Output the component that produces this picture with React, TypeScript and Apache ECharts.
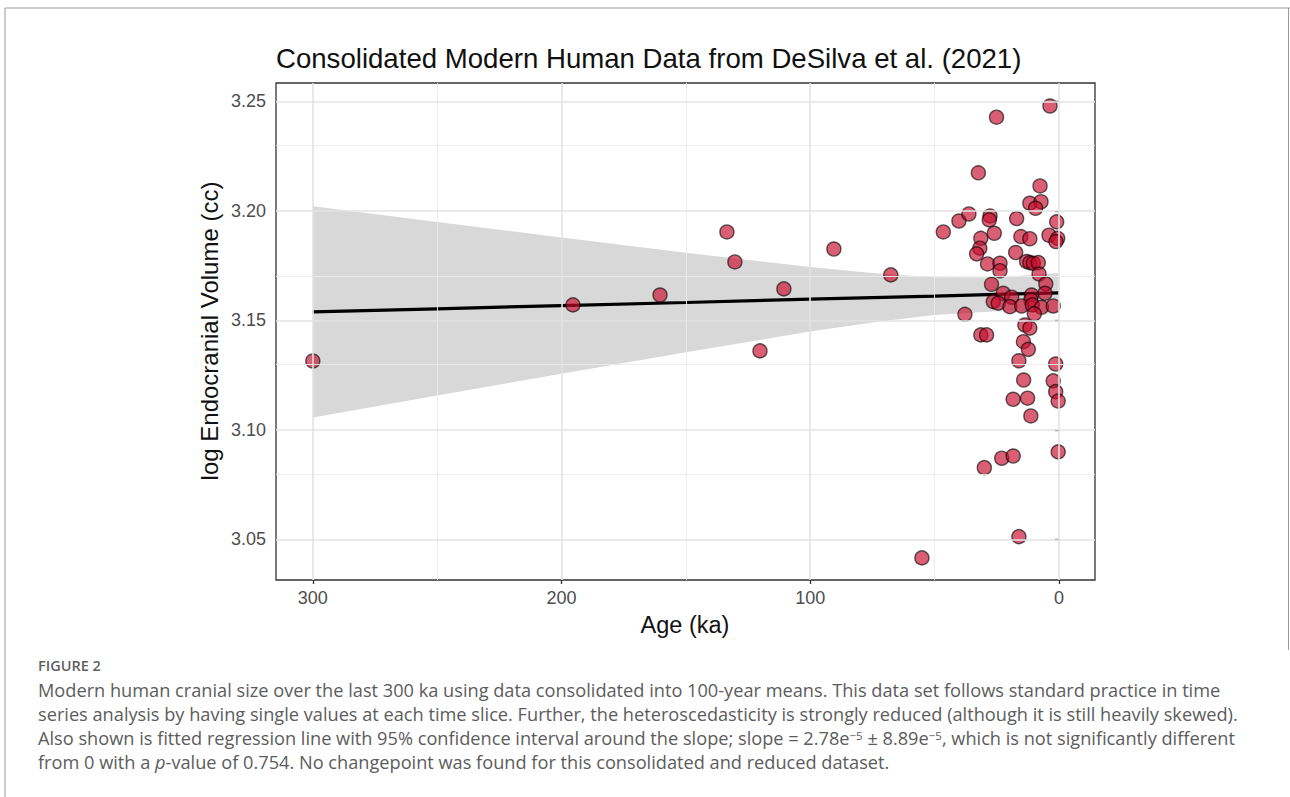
import React, { useEffect, useRef } from "react";
import * as echarts from "echarts";

// ---- data (age in ka, log endocranial volume) ----
const ages = [
  300, 195.4, 160.4, 133.5, 130.3, 120.2, 110.6, 90.5, 67.6, 55.1, 46.5, 40.2, 36.2, 37.8, 32.4, 25.1, 3.6,
  7.6, 11.7, 7.2, 9.4, 27.7, 28.0, 17.0, 0.9, 31.4, 26.0, 15.3, 11.7, 4.0, 0.5, 1.2, 31.8, 33.1, 17.4,
  28.7, 23.7, 23.7, 13.0, 11.7, 10.3, 8.3, 8.0, 5.3, 27.1, 5.6, 22.4, 19.0, 26.4, 24.4, 11.0, 11.3, 19.7,
  15.0, 10.7, 7.0, 2.3, 9.9, 13.7, 11.7,
  31.4, 29.1, 14.3, 12.3, 16.1, 1.3, 14.2, 2.3, 1.3, 18.4, 12.6, 0.3, 11.3,
  30.0, 23.0, 18.4, 0.3, 16.1,
];
const logVolumes = [
  3.1315, 3.1571, 3.1616, 3.1904, 3.1767, 3.1361, 3.1644, 3.1826, 3.1708, 3.0416, 3.1904, 3.1954, 3.1986, 3.1528, 3.2174, 3.2428, 3.2479,
  3.2114, 3.2035, 3.2042, 3.2012, 3.1977, 3.1959, 3.1965, 3.195, 3.1875, 3.1898, 3.1883, 3.1873, 3.1889, 3.1875, 3.186, 3.183, 3.1804, 3.181,
  3.1758, 3.1761, 3.1727, 3.1769, 3.1764, 3.1761, 3.1764, 3.1712, 3.1667, 3.1665, 3.1624, 3.1624, 3.1606, 3.1586, 3.1579, 3.1616, 3.1594, 3.1563,
  3.1566, 3.1571, 3.156, 3.1566, 3.153, 3.1479, 3.1465,
  3.1434, 3.1434, 3.1403, 3.1368, 3.1316, 3.1301, 3.1228, 3.1224, 3.1175, 3.114, 3.1145, 3.1132, 3.1064,
  3.0828, 3.0871, 3.0881, 3.09, 3.0513,
];

// regression fit and 95% CI
const fitAges = [300, 250, 200, 150, 100, 75, 50, 25, 0];
const fitLine = [3.1539, 3.1553, 3.1568, 3.1582, 3.1597, 3.1604, 3.1611, 3.1619, 3.1626];
const ciUpper = [3.2021, 3.1949, 3.1879, 3.1809, 3.1744, 3.1717, 3.1697, 3.1696, 3.1717];
const ciLower = [3.1057, 3.1157, 3.1257, 3.1355, 3.145, 3.1491, 3.1525, 3.1542, 3.1535];

// ticks / grid
const xMajorTicks = [0, 100, 200, 300];
const xMinorTicks = [50, 150, 250];
const yMajorTicks = [3.05, 3.1, 3.15, 3.2, 3.25];
const yMinorTicks = [3.075, 3.125, 3.175, 3.225];

const titleText = "Consolidated Modern Human Data from DeSilva et al. (2021)";
const xTitle = "Age (ka)";
const yTitle = "log Endocranial Volume (cc)";
const figureLabel = "FIGURE 2";
const captionLines = [
  "Modern human cranial size over the last 300 ka using data consolidated into 100-year means. This data set follows standard practice in time",
  "series analysis by having single values at each time slice. Further, the heteroscedasticity is strongly reduced (although it is still heavily skewed).",
  "Also shown is fitted regression line with 95% confidence interval around the slope; slope = 2.78e{sup|−5} ± 8.89e{sup|−5}, which is not significantly different",
  "from 0 with a {it|p}-value of 0.754. No changepoint was found for this consolidated and reduced dataset.",
];

const AX_FONT = "'Liberation Sans', Arial, sans-serif";
const CAP_FONT = "'Open Sans', Lato, sans-serif";
const CAP_COLOR = "#5c5c5c";

export default function App() {
  const ref = useRef<HTMLDivElement>(null);

  useEffect(() => {
    if (!ref.current) return;
    const chart = echarts.init(ref.current, undefined, { renderer: "svg" });

    const points = ages.map((a, i) => [a, logVolumes[i]]);
    const linePts = fitAges.map((a, i) => [a, fitLine[i]]);

    const gridLineData: any[] = [
      ...xMinorTicks.map((v) => ({ xAxis: v, lineStyle: { color: "#EBEBEB", width: 0.9, type: "solid" } })),
      ...yMinorTicks.map((v) => ({ yAxis: v, lineStyle: { color: "#EBEBEB", width: 0.9, type: "solid" } })),
      ...xMajorTicks.map((v) => ({ xAxis: v, lineStyle: { color: "#E3E3E3", width: 1.6, type: "solid" } })),
      ...yMajorTicks.map((v) => ({ yAxis: v, lineStyle: { color: "#E3E3E3", width: 1.6, type: "solid" } })),
    ];

    const captionGraphics: any[] = captionLines.map((line, i) => ({
      type: "text",
      x: 38,
      y: 690 + i * 24,
      silent: true,
      style: {
        text: line,
        fill: CAP_COLOR,
        fontSize: 18.2,
        fontFamily: CAP_FONT,
        textVerticalAlign: "middle",
        rich: {
          sup: { fontSize: 11.5, fontFamily: CAP_FONT, fill: CAP_COLOR, verticalAlign: "top" },
          it: { fontSize: 18.2, fontFamily: CAP_FONT, fill: CAP_COLOR, fontStyle: "italic" },
        },
      },
    }));

    chart.setOption({
      animation: false,
      backgroundColor: "#ffffff",
      grid: {
        left: 276,
        top: 83,
        width: 819,
        height: 497,
        show: true,
        borderColor: "#333333",
        borderWidth: 1.3,
        backgroundColor: "transparent",
      },
      xAxis: {
        type: "value",
        inverse: true,
        min: -14.5,
        max: 314.8,
        splitLine: { show: false },
        axisLine: { show: false },
        axisTick: {
          show: true,
          length: 4,
          customValues: xMajorTicks,
          lineStyle: { color: "#333333", width: 1.3 },
        },
        axisLabel: {
          customValues: xMajorTicks,
          color: "#4D4D4D",
          fontSize: 18,
          fontFamily: AX_FONT,
          margin: 9,
          formatter: (v: number) => String(Math.round(v)),
        },
      },
      yAxis: {
        type: "value",
        min: 3.0315,
        max: 3.2584,
        splitLine: { show: false },
        axisLine: { show: false },
        axisTick: {
          show: true,
          length: 4,
          customValues: yMajorTicks,
          lineStyle: { color: "#333333", width: 1.3 },
        },
        axisLabel: {
          customValues: yMajorTicks,
          color: "#4D4D4D",
          fontSize: 18,
          fontFamily: AX_FONT,
          margin: 10,
          formatter: (v: number) => v.toFixed(2),
        },
      },
      series: [
        {
          name: "grid",
          type: "line",
          data: [[0, 3.15]],
          showSymbol: false,
          symbol: "none",
          lineStyle: { width: 0, opacity: 0 },
          silent: true,
          z: 0,
          markLine: {
            silent: true,
            symbol: ["none", "none"],
            label: { show: false },
            emphasis: { disabled: true },
            data: gridLineData,
          },
        },
        {
          name: "ci",
          type: "custom",
          silent: true,
          z: 1,
          data: [[0, 3.15]],
          renderItem: (params: any, api: any) => {
            const pts: number[][] = [];
            for (let i = 0; i < fitAges.length; i++) pts.push(api.coord([fitAges[i], ciUpper[i]]));
            for (let i = fitAges.length - 1; i >= 0; i--) pts.push(api.coord([fitAges[i], ciLower[i]]));
            return {
              type: "polygon",
              shape: { points: pts },
              style: { fill: "rgba(153,153,153,0.38)", stroke: "none" },
            };
          },
        },
        {
          name: "fit",
          type: "line",
          data: linePts,
          symbol: "none",
          silent: true,
          z: 2,
          lineStyle: { color: "#000000", width: 3.2 },
        },
        {
          name: "points",
          type: "scatter",
          data: points,
          symbol: "circle",
          symbolSize: 14,
          z: 3,
          itemStyle: {
            color: "rgba(198,10,42,0.82)",
            borderColor: "rgba(0,0,0,0.78)",
            borderWidth: 1.4,
          },
        },
      ],
      graphic: [
        {
          type: "line",
          silent: true,
          shape: { x1: 5, y1: 8, x2: 1290, y2: 8 },
          style: { stroke: "#9a9a9a", lineWidth: 1 },
        },
        {
          type: "line",
          silent: true,
          shape: { x1: 5, y1: 8, x2: 5, y2: 797 },
          style: { stroke: "#9a9a9a", lineWidth: 1 },
        },
        {
          type: "line",
          silent: true,
          shape: { x1: 1288.5, y1: 8, x2: 1288.5, y2: 650 },
          style: { stroke: "#9a9a9a", lineWidth: 1 },
        },
        {
          type: "text",
          x: 276,
          y: 58,
          silent: true,
          style: {
            text: titleText,
            fill: "#111111",
            fontSize: 27.6,
            fontFamily: AX_FONT,
            textAlign: "left",
            textVerticalAlign: "middle",
          },
        },
        {
          type: "text",
          x: 685,
          y: 625,
          silent: true,
          style: {
            text: xTitle,
            fill: "#111111",
            fontSize: 23.5,
            fontFamily: AX_FONT,
            textAlign: "center",
            textVerticalAlign: "middle",
          },
        },
        {
          type: "text",
          x: 209,
          y: 331,
          rotation: Math.PI / 2,
          silent: true,
          style: {
            text: yTitle,
            fill: "#111111",
            fontSize: 24,
            fontFamily: AX_FONT,
            textAlign: "center",
            textVerticalAlign: "middle",
          },
        },
        {
          type: "text",
          x: 38,
          y: 665,
          silent: true,
          style: {
            text: figureLabel,
            fill: "#5f5f5f",
            fontSize: 14.5,
            fontWeight: 600,
            fontFamily: CAP_FONT,
            textVerticalAlign: "middle",
          },
        },
        ...captionGraphics,
      ],
    });

    return () => chart.dispose();
  }, []);

  return (
    <div
      ref={ref}
      style={{ position: "absolute", left: 0, top: 0, width: 1290, height: 797, background: "#fff" }}
    />
  );
}
